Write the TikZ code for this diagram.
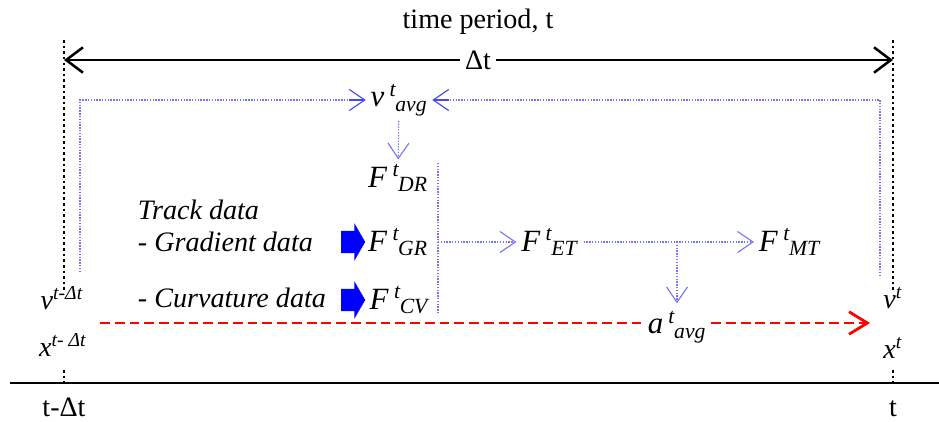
\documentclass[tikz,border=0pt]{standalone}
\usepackage{fontspec}
\setmainfont{Liberation Serif}
\usetikzlibrary{arrows.meta,positioning,shapes.arrows}

\definecolor{flowblue}{RGB}{70,70,255}
\newcommand{\tvar}[3]{\textit{#1}\,\textsuperscript{\textit{#2}}\kern-1pt\textsubscript{\textit{#3}}}

\begin{document}
\begin{tikzpicture}[x=0.025cm, y=-0.025cm, font=\fontsize{20}{24}\selectfont,
  barb/.style={-{Straight Barb[length=11pt,width=15pt]}},
  flow/.style={flowblue!75, line width=0.8pt, dash pattern=on 1pt off 1pt},
  force/.style={font=\fontsize{22}{26}\selectfont},
  span/.style={line width=2pt, -{Straight Barb[length=12pt,width=18pt,line width=1.8pt]}},
  tickline/.style={line width=1.8pt, dash pattern=on 1.8pt off 2.2pt},
  accel/.style={red, line width=2pt, dash pattern=on 7pt off 3.5pt},
  fat/.style={single arrow, fill=blue, draw=none, inner sep=0pt, minimum height=0.6cm,
    text width=0pt, text height=0.27cm, text depth=0.27cm,
    single arrow head extend=0.19cm, single arrow tip angle=120}]
  \useasboundingbox (0,0) rectangle (939,421);

  % time marks
  \node (title) at (478,22) {time period, t};
  \node (dt) at (478,60) {Δt};
  \coordinate (ltop) at (64,40);   \coordinate (rtop) at (893,40);
  \coordinate (lend) at (64,290);  \coordinate (rend) at (893,290);
  \draw[tickline] (ltop) -- (lend);  \draw[tickline] (rtop) -- (rend);
  \draw[tickline] (64,370) -- (64,382);  \draw[tickline] (893,370) -- (893,382);
  \draw[span] (dt) -- (ltop |- dt);
  \draw[span] (dt) -- (rtop |- dt);

  % state variables
  \node (vold) at (62,298) {\textit{v}\textsuperscript{\textit{t-Δt}}};
  \node (xold) at (63,345) {\textit{x}\textsuperscript{\textit{t- Δt}}};
  \node (vnew) at (893,298) {\textit{v}\textsuperscript{\textit{t}}};
  \node (xnew) at (893,348) {\textit{x}\textsuperscript{\textit{t}}};

  % forces
  \node[force] (vavg) at (399,100) {\tvar{v}{t}{avg}};
  \node[force] (fdr) at (398,178) {\tvar{F}{t}{DR}};
  \node[force] (fgr) at (398,242) {\tvar{F}{t}{GR}};
  \node[force] (fcv) at (400,300) {\tvar{F}{t}{CV}};
  \node[force] (fet) at (550,242) {\tvar{F}{t}{ET}};
  \node[force] (fmt) at (790,242) {\tvar{F}{t}{MT}};
  \node[force] (aavg) at (677,327) {\tvar{a}{t}{avg}};

  % track data
  \node[anchor=west] (track) at (133,210) {\textit{Track data}};
  \node[anchor=west] (grad) at (133,242) {- \textit{Gradient data}};
  \node[anchor=west] (curv) at (133,298) {- \textit{Curvature data}};
  \node[fat] (garr) at (350,242) {};
  \node[fat] (carr) at (350,300) {};

  % flows
  \coordinate (lloop) at (80,272);  \coordinate (rloop) at (880,276);
  \coordinate (bartop) at (438,163); \coordinate (barbot) at (438,313);
  \coordinate (split) at (677,242);
  \draw[flow] (bartop) -- (barbot);
  \draw[flow] (lloop) |- (vavg);
  \draw[flow] (rloop) |- (vavg);
  \path[flowblue]
    (vavg) edge[flow,barb] (fdr)
    (bartop |- fgr) edge[flow,barb] (fet)
    (fet) edge[flow,barb] (fmt)
    (split) edge[flow,barb,shorten >=2pt] (aavg.north);
  \draw[flowblue,barb,line width=0.8pt] ([xshift=-12pt]vavg.west) -- (vavg.west);
  \draw[flowblue,barb,line width=0.8pt] ([xshift=12pt]vavg.east) -- (vavg.east);

  % acceleration
  \coordinate (rstart) at (100,323);  \coordinate (rstop) at (870,323);
  \draw[accel] (rstart) -- (rstart -| aavg.west);
  \draw[accel,-{Straight Barb[length=13pt,width=16pt]}] (rstart -| aavg.east) -- (rstop);

  % axis
  \coordinate (axl) at (10,383);  \coordinate (axr) at (939,383);
  \draw[line width=2pt] (axl) -- (axr);
  \node[anchor=base, inner sep=1pt] (tprev) at (64,416) {t-Δt};
  \node[anchor=base, inner sep=1pt] (tnow) at (893,416) {t};
\end{tikzpicture}
\end{document}
